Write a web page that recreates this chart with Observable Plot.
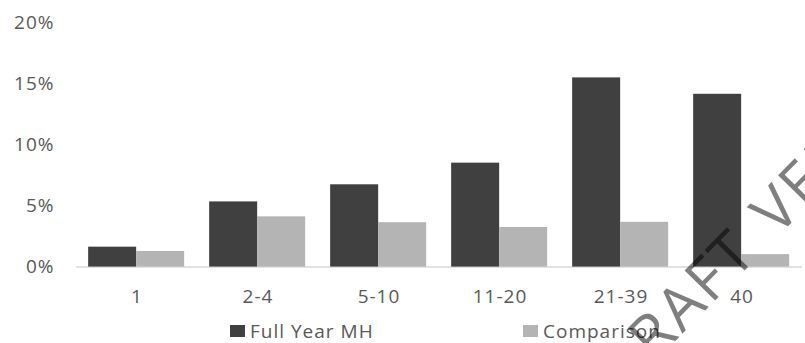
<!DOCTYPE html>
<html>
<head>
<meta charset="utf-8">
<script src="https://cdn.jsdelivr.net/npm/d3@7"></script>
<script src="https://cdn.jsdelivr.net/npm/@observablehq/plot@0.6"></script>
<style>
  html, body { margin: 0; padding: 0; background: #fff; }
  #wrap { position: relative; width: 805px; height: 343px; overflow: hidden; font-family: "Open Sans", sans-serif; }
  #legend { position: relative; height: 31px; color: #595959; font-size: 19px; letter-spacing: 1px; }
  .item { position: absolute; top: 3px; display: flex; align-items: center; height: 31px; white-space: nowrap; }
  .sw { display: inline-block; width: 15px; height: 12px; margin-right: 5px; }
  #wm { position: absolute; left: 0; top: 0; pointer-events: none; }
</style>
</head>
<body>
<div id="wrap">
  <div id="chart"></div>
  <div id="legend"></div>
  <svg id="wm" width="805" height="343"></svg>
</div>
<script>
const categories = ["1", "2-4", "5-10", "11-20", "21-39", "40"];
const seriesNames = ["Full Year MH", "Comparison"];
const fullYearMH = [1.63, 5.33, 6.73, 8.5, 15.47, 14.13];
const comparison = [1.28, 4.11, 3.63, 3.24, 3.66, 1.02];
const yTicks = [0, 5, 10, 15, 20];
const seriesColors = ["#404040", "#b4b4b4"];
const watermarkText = "DRAFT VERSION";

const table = [];
categories.forEach((c, i) => {
  table.push({category: c, series: seriesNames[0], value: fullYearMH[i]});
  table.push({category: c, series: seriesNames[1], value: comparison[i]});
});

const chart = Plot.plot({
  width: 805,
  height: 312,
  marginLeft: 74.85,
  marginRight: 1.75,
  marginTop: 22,
  marginBottom: 45.4,
  style: {fontFamily: "Open Sans, sans-serif", fontSize: "19px", color: "#595959", letterSpacing: "1px", background: "#fff"},
  fx: {domain: categories, padding: 0, label: null, axis: "bottom", tickSize: 0, tickPadding: 22},
  x: {domain: seriesNames, paddingInner: 0, paddingOuter: 0.25, axis: null},
  y: {domain: [0, 20], ticks: yTicks, tickFormat: d => d + "%", tickSize: 0, tickPadding: 22, label: null},
  color: {domain: seriesNames, range: seriesColors},
  marks: [
    Plot.ruleY([0], {stroke: "#d9d9d9", strokeWidth: 1.5}),
    Plot.barY(table, {fx: "category", x: "series", y: "value", fill: "series"})
  ]
});
document.getElementById("chart").appendChild(chart);

const legend = document.getElementById("legend");
const legendPos = [230, 523];
seriesNames.forEach((s, i) => {
  const item = document.createElement("div");
  item.className = "item";
  item.style.left = legendPos[i] + "px";
  const sw = document.createElement("span");
  sw.className = "sw";
  sw.style.background = seriesColors[i];
  item.appendChild(sw);
  item.appendChild(document.createTextNode(s));
  legend.appendChild(item);
});

d3.select("#wm").append("text")
  .attr("transform", "translate(621.6,395.6) rotate(-45.5)")
  .attr("font-family", "Open Sans, sans-serif")
  .attr("font-size", 60)
  .attr("letter-spacing", 3)
  .attr("word-spacing", 6)
  .attr("fill", "#000")
  .attr("fill-opacity", 0.5)
  .text(watermarkText);
</script>
</body>
</html>
